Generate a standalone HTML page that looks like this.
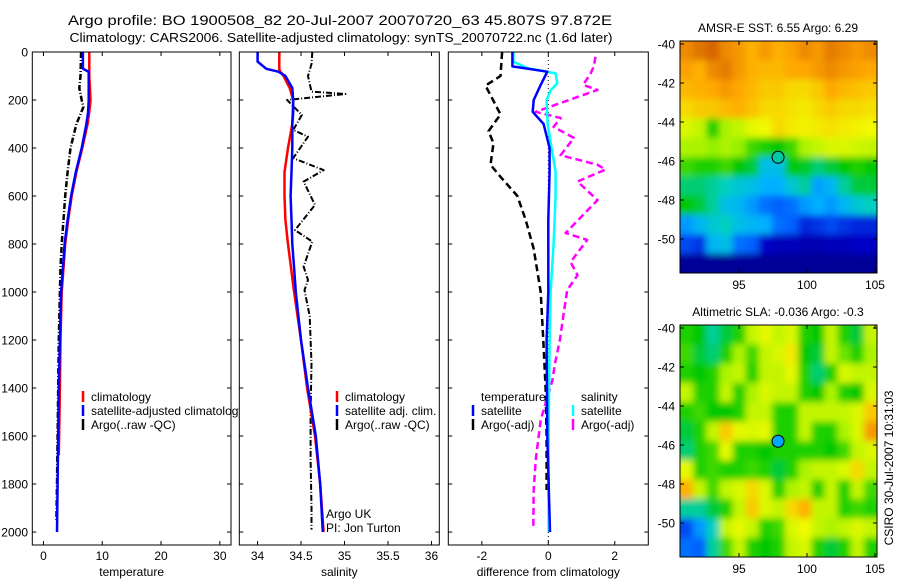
<!DOCTYPE html>
<html><head><meta charset="utf-8"><style>
html,body{margin:0;padding:0;background:#fff;}
svg{display:block;font-family:"Liberation Sans",sans-serif;}
</style></head><body>
<svg id="fig" width="900" height="580" viewBox="0 0 900 580" xmlns="http://www.w3.org/2000/svg">
<defs>
<filter id="blur" filterUnits="userSpaceOnUse" x="600" y="0" width="300" height="580"><feGaussianBlur stdDeviation="3.5"/></filter>
<clipPath id="clipMap1"><rect x="680" y="41" width="197" height="232"/></clipPath>
<clipPath id="clipMap2"><rect x="680" y="325" width="197" height="232"/></clipPath>
<clipPath id="clipP1"><rect x="32.3" y="52" width="198.7" height="493"/></clipPath>
<clipPath id="clipP2"><rect x="239.3" y="52" width="200" height="493"/></clipPath>
<clipPath id="clipP3"><rect x="448.3" y="52" width="200" height="493"/></clipPath>
</defs>
<text x="340" y="25" font-size="13.5" text-anchor="middle" textLength="544" lengthAdjust="spacingAndGlyphs">Argo profile: BO 1900508_82 20-Jul-2007 20070720_63 45.807S 97.872E</text>
<text x="341" y="42" font-size="13" text-anchor="middle" textLength="543" lengthAdjust="spacingAndGlyphs">Climatology: CARS2006. Satellite-adjusted climatology: synTS_20070722.nc (1.6d later)</text>
</svg>
<script>
// ---------- data ----------
const depthTempClim = [0,50,100,150,200,250,300,400,500,600,700,800,900,1000,1200,1400,1680];
const tempClim      = [7.8,7.8,7.8,7.9,8.0,7.8,7.5,6.6,5.6,4.8,4.2,3.7,3.4,3.1,2.9,2.8,2.6];
const depthStd      = [0,40,70,82,100,150,200,250,300,400,500,600,700,800,900,1000,1200,1400,1600,1800,2000];
const tempSat       = [6.7,6.7,6.7,7.7,7.7,7.7,7.7,7.6,7.3,6.5,5.5,4.7,4.1,3.6,3.3,3.0,2.8,2.6,2.5,2.4,2.3];
const depthTempArgo = [0,100,150,200,229,300,400,500,600,700,800,900,1000,1200,1400,1600,1800,1950];
const tempArgo      = [6.4,6.3,6.1,6.5,6.8,5.6,4.6,4.1,3.7,3.4,3.1,2.9,2.8,2.6,2.5,2.4,2.3,2.2];

const depthSalClim  = [0,75,100,150,200,300,400,500,600,700,800,1000,1200,1400,1600,1800,2000];
const salClim       = [34.25,34.25,34.3,34.37,34.41,34.40,34.35,34.31,34.31,34.32,34.35,34.42,34.5,34.57,34.66,34.72,34.76];
const salSat        = [34.0,34.0,34.1,34.24,34.32,34.40,34.41,34.41,34.40,34.40,34.39,34.38,34.39,34.40,34.42,34.44,34.5,34.58,34.67,34.72,34.75];
const depthSalArgo  = [0,50,100,165,175,200,262,325,353,442,492,540,637,742,790,894,950,992,1100,1300,1500,1700,1900,1990];
const salArgo       = [34.63,34.62,34.58,34.62,35.01,34.34,34.51,34.41,34.58,34.41,34.76,34.53,34.66,34.43,34.63,34.53,34.58,34.54,34.60,34.62,34.61,34.61,34.62,34.62];

const depthDiffT    = [0,60,82,137,200,249,300,400,500,700,1000,1200,1600,2000];
const diffTempSat   = [-1.08,-1.08,-0.03,-0.23,-0.44,-0.47,-0.14,0.04,0.04,0.0,0.0,-0.05,-0.03,0.05];
const depthDiffS    = [0,40,67,89,130,160,200,300,400,500,600,800,1000,1200,1600,2000];
const diffSalSat    = [-1.05,-1.05,-0.63,0.22,0.27,0.07,-0.05,-0.02,0.1,0.22,0.22,0.16,0.07,0.04,0.01,0.01];
const depthDiffTA   = [0,100,140,260,330,380,470,520,600,700,820,1000,1200,1400,1600,1825];
const diffTempArgo  = [-1.39,-1.44,-1.89,-1.44,-1.8,-1.65,-1.74,-1.44,-0.93,-0.68,-0.44,-0.23,-0.15,-0.08,-0.05,-0.05];
const depthDiffSA   = [20,60,88,137,158,249,275,312,358,430,470,490,540,617,754,783,875,930,992,1100,1200,1300,1370,1533,1700,1825,1980];
const diffSalArgo   = [1.42,1.37,1.28,1.05,1.48,-0.38,0.37,0.16,0.77,0.37,1.48,1.72,0.88,1.48,0.52,1.17,0.67,0.88,0.57,0.45,0.35,0.2,0.12,-0.23,-0.38,-0.44,-0.45];

const depthTicks = [0,200,400,600,800,1000,1200,1400,1600,1800,2000];
const p1Ticks = [0,10,20,30];
const p2Ticks = [34,34.5,35,35.5,36];
const p2TickLabels = ["34","34.5","35","35.5","36"];
const p3Ticks = [-2,0,2];
const latTicks = [-40,-42,-44,-46,-48,-50];
const lonTicks = [95,100,105];

const sstGrid = [
[0.9,0.93,0.95,0.9,0.88,0.85,0.88,0.85,0.87,0.9,0.88,0.92,0.9,0.88,0.9],
[0.87,0.85,0.9,0.92,0.88,0.85,0.84,0.84,0.86,0.86,0.88,0.9,0.88,0.87,0.86],
[0.84,0.85,0.86,0.88,0.86,0.84,0.82,0.82,0.8,0.8,0.82,0.86,0.84,0.83,0.82],
[0.8,0.82,0.82,0.84,0.85,0.83,0.8,0.8,0.79,0.78,0.8,0.82,0.8,0.8,0.79],
[0.74,0.72,0.6,0.7,0.72,0.75,0.76,0.8,0.78,0.77,0.78,0.79,0.78,0.77,0.76],
[0.7,0.7,0.68,0.7,0.68,0.62,0.6,0.58,0.62,0.7,0.72,0.74,0.74,0.73,0.72],
[0.62,0.6,0.6,0.62,0.58,0.55,0.42,0.42,0.58,0.56,0.52,0.55,0.58,0.6,0.58],
[0.52,0.52,0.5,0.48,0.45,0.42,0.38,0.38,0.45,0.5,0.36,0.4,0.5,0.55,0.55],
[0.58,0.55,0.5,0.42,0.4,0.35,0.3,0.28,0.3,0.35,0.38,0.35,0.4,0.45,0.48],
[0.35,0.4,0.45,0.48,0.42,0.4,0.38,0.3,0.28,0.2,0.22,0.25,0.22,0.2,0.2],
[0.25,0.22,0.4,0.42,0.3,0.28,0.15,0.12,0.12,0.1,0.1,0.12,0.12,0.15,0.15],
[0.05,0.05,0.05,0.05,0.05,0.05,0.05,0.05,0.05,0.05,0.05,0.05,0.05,0.05,0.05]];
const slaGrid = [
[0.6,0.58,0.5,0.55,0.6,0.72,0.75,0.72,0.74,0.6,0.58,0.72,0.6,0.55,0.72],
[0.62,0.55,0.52,0.6,0.7,0.62,0.72,0.74,0.78,0.58,0.55,0.72,0.65,0.6,0.7],
[0.6,0.58,0.6,0.7,0.72,0.6,0.72,0.72,0.75,0.6,0.52,0.6,0.74,0.72,0.72],
[0.72,0.6,0.6,0.72,0.6,0.7,0.74,0.72,0.72,0.6,0.58,0.7,0.6,0.58,0.74],
[0.6,0.62,0.58,0.58,0.6,0.72,0.72,0.6,0.6,0.72,0.72,0.72,0.72,0.74,0.82],
[0.55,0.6,0.72,0.82,0.75,0.74,0.75,0.6,0.6,0.72,0.6,0.6,0.7,0.74,0.88],
[0.52,0.6,0.62,0.75,0.6,0.6,0.58,0.6,0.6,0.6,0.6,0.58,0.62,0.72,0.74],
[0.75,0.6,0.62,0.6,0.6,0.62,0.6,0.55,0.6,0.7,0.72,0.72,0.74,0.8,0.72],
[0.85,0.72,0.62,0.72,0.74,0.8,0.74,0.6,0.7,0.72,0.6,0.72,0.6,0.72,0.62],
[0.5,0.5,0.55,0.6,0.72,0.82,0.74,0.72,0.8,0.85,0.72,0.72,0.6,0.62,0.6],
[0.25,0.35,0.48,0.72,0.75,0.72,0.6,0.62,0.74,0.76,0.72,0.7,0.72,0.74,0.72],
[0.3,0.28,0.5,0.62,0.72,0.6,0.58,0.6,0.72,0.74,0.6,0.55,0.6,0.72,0.6]];
const argoLon = 97.872, argoLat = -45.807;

// ---------- helpers ----------
const NS = "http://www.w3.org/2000/svg";
const svg = document.getElementById('fig');
function mk(tag, attrs, parent){ const e=document.createElementNS(NS,tag); for(const k in attrs) e.setAttribute(k,attrs[k]); (parent||svg).appendChild(e); return e; }
const Y0=52, Y1=545, DMAX=2054;
const yD = d => Y0 + d/DMAX*(Y1-Y0);
const panels = [
 {x0:32.3,x1:231,min:-1.9,max:31.9,clip:'clipP1'},
 {x0:239.3,x1:439.3,min:33.79,max:36.09,clip:'clipP2'},
 {x0:448.3,x1:648.3,min:-3.01,max:3.01,clip:'clipP3'}];
const xf = (p,v) => p.x0 + (v-p.min)/(p.max-p.min)*(p.x1-p.x0);

function panelBox(p, key){
  const r=mk('rect',{x:p.x0,y:Y0,width:p.x1-p.x0,height:Y1-Y0,fill:'#fff',stroke:'none'});
  
  
}
function panelFrame(p, ticks, labels, xlabel, showY, key){
  const g=mk('g',{stroke:'#000','stroke-width':1,fill:'none'});
  
  
  mk('rect',{x:p.x0,y:Y0,width:p.x1-p.x0,height:Y1-Y0},g);
  depthTicks.forEach(d=>{ const y=yD(d);
    mk('line',{x1:p.x0,y1:y,x2:p.x0+4,y2:y},g); mk('line',{x1:p.x1,y1:y,x2:p.x1-4,y2:y},g);
    if(showY){ const t=mk('text',{x:28,y:y+4.5,'font-size':12,'text-anchor':'end',fill:'#000',stroke:'none'}); t.textContent=String(d);
      
       }
  });
  ticks.forEach((v,i)=>{ const x=xf(p,v);
    mk('line',{x1:x,y1:Y0,x2:x,y2:Y0+4},g); mk('line',{x1:x,y1:Y1,x2:x,y2:Y1-4},g);
    const t=mk('text',{x:x,y:560,'font-size':12,'text-anchor':'middle',fill:'#000',stroke:'none'}); t.textContent=labels[i];
    
    
  });
  const xl=mk('text',{x:(p.x0+p.x1)/2,y:576,'font-size':12,'text-anchor':'middle',fill:'#000'}); xl.textContent=xlabel;
  
  
}
function series(p, depths, vals, color, dash, w, name){
  const pts = depths.map((d,i)=>xf(p,vals[i]).toFixed(1)+','+yD(d).toFixed(1)).join(' ');
  const l=mk('polyline',{points:pts,fill:'none',stroke:color,'stroke-width':w,'stroke-dasharray':dash||'none','clip-path':'url(#'+p.clip+')','stroke-linejoin':'round'});
  
  
}
function legend(x, y, color, text, name){
  const m=mk('line',{x1:x,y1:y-6,x2:x,y2:y+5,stroke:color,'stroke-width':2.5});
  
  
  const t=mk('text',{x:x+8,y:y+4,'font-size':12,fill:'#000'}); t.textContent=text;
  
  
}
function plainText(x,y,text,name,anchor){
  const t=mk('text',{x:x,y:y,'font-size':12,fill:'#000','text-anchor':anchor||'start'}); t.textContent=text;
  
  
  return t;
}

const P1=panels[0],P2=panels[1],P3=panels[2];
// ---------- panel 1 ----------
panelBox(P1,'temperature-panel');
series(P1,depthTempArgo,tempArgo,'#000','6,2,1,2',2.5,'argo-temperature-line');
series(P1,depthTempClim,tempClim,'#ff0000','',2.5,'climatology-temperature-line');
series(P1,depthStd,tempSat,'#0000ff','',2.5,'satellite-temperature-line');
legend(83,397,'#ff0000','climatology','legend-climatology');
legend(83,411,'#0000ff','satellite-adjusted climatology','legend-satellite-adjusted');
legend(83,425,'#000','Argo(..raw -QC)','legend-argo');
panelFrame(P1,p1Ticks,p1Ticks.map(String),'temperature',true,'temperature-panel');

// ---------- panel 2 ----------
panelBox(P2,'salinity-panel');
series(P2,depthSalArgo,salArgo,'#000','6,2,1,2',2,'argo-salinity-line');
series(P2,depthSalClim,salClim,'#ff0000','',2.5,'climatology-salinity-line');
series(P2,depthStd,salSat,'#0000ff','',2.5,'satellite-salinity-line');
legend(337,397,'#ff0000','climatology','legend-climatology-sal');
legend(337,411,'#0000ff','satellite adj. clim.','legend-satellite-sal');
legend(337,425,'#000','Argo(..raw -QC)','legend-argo-sal');
plainText(326,518,'Argo UK','argo-uk-label');
plainText(326,532,'PI: Jon Turton','pi-label');
panelFrame(P2,p2Ticks,p2TickLabels,'salinity',false,'salinity-panel');

// ---------- panel 3 ----------
panelBox(P3,'difference-panel');
const zl=mk('line',{x1:xf(P3,0),y1:Y0,x2:xf(P3,0),y2:Y1,stroke:'#000','stroke-width':1,'stroke-dasharray':'1,3'});


series(P3,depthDiffTA,diffTempArgo,'#000','7,4',2.5,'argo-temperature-diff-line');
series(P3,depthDiffSA,diffSalArgo,'#ff00ff','7,4',2.5,'argo-salinity-diff-line');
series(P3,depthDiffS,diffSalSat,'#00ffff','',2.5,'satellite-salinity-diff-line');
series(P3,depthDiffT,diffTempSat,'#0000ff','',2.5,'satellite-temperature-diff-line');
plainText(481,401,'temperature','legend-temperature-heading');
plainText(581,401,'salinity','legend-salinity-heading');
legend(473,411,'#0000ff','satellite','legend-temp-satellite');
legend(473,425,'#000','Argo(-adj)','legend-temp-argo');
legend(573,411,'#00ffff','satellite','legend-sal-satellite');
legend(573,425,'#ff00ff','Argo(-adj)','legend-sal-argo');
panelFrame(P3,p3Ticks,p3Ticks.map(String),'difference from climatology',false,'difference-panel');

// ---------- maps ----------
const stops=[[0,[0,0,128]],[0.15,[0,0,200]],[0.28,[0,96,255]],[0.38,[0,176,255]],[0.48,[0,208,192]],[0.58,[0,200,0]],[0.68,[150,240,0]],[0.76,[240,250,0]],[0.86,[255,168,0]],[1,[192,64,0]]];
function cmap(v){ for(let i=1;i<stops.length;i++){ if(v<=stops[i][0]){ const a=stops[i-1],b=stops[i],t=(v-a[0])/(b[0]-a[0]);
  const c=a[1].map((x,k)=>Math.round(x+(b[1][k]-x)*t)); return 'rgb('+c.join(',')+')'; } } return 'rgb(192,64,0)'; }
const MX0=680,MX1=877,LON0=90.66,LON1=105.15;
const lonX = lon => MX0+(lon-LON0)/(LON1-LON0)*(MX1-MX0);
function drawMap(grid, top, clip, key, title, markerFill){
  const latY = lat => top+3 + (-40-lat)*19.5;
  const bottom=top+232;
  const g=mk('g',{'clip-path':'url(#'+clip+')'});
  
  
  const gi=mk('g',{filter:'url(#blur)'},g);
  const rows=grid.length, cols=grid[0].length, ch=(bottom-top)/rows, cw=(MX1-MX0)/cols;
  grid.forEach((row,r)=>row.forEach((v,c)=>{
    let x=MX0+c*cw, y=top+r*ch, w=cw+0.6, h=ch+0.6;
    if(c===0){x-=10;w+=10;} if(c===cols-1){w+=10;} if(r===0){y-=10;h+=10;} if(r===rows-1){h+=10;}
    const cell=mk('rect',{x:x,y:y,width:w,height:h,fill:cmap(v)},gi);
    
    
  }));
  const fr=mk('g',{stroke:'#000','stroke-width':1,fill:'none'});
  
  
  mk('rect',{x:MX0,y:top,width:MX1-MX0,height:232},fr);
  latTicks.forEach(lat=>{ const y=latY(lat);
    mk('line',{x1:MX0,y1:y,x2:MX0+4,y2:y},fr); mk('line',{x1:MX1,y1:y,x2:MX1-4,y2:y},fr);
    const t=mk('text',{x:675,y:y+4.5,'font-size':12,'text-anchor':'end',fill:'#000',stroke:'none'}); t.textContent=String(lat);
    
    
  });
  lonTicks.forEach(lon=>{ const x=lonX(lon);
    mk('line',{x1:x,y1:top,x2:x,y2:top+4},fr); mk('line',{x1:x,y1:bottom,x2:x,y2:bottom-4},fr);
    const t=mk('text',{x:x,y:bottom+16,'font-size':12,'text-anchor':'middle',fill:'#000',stroke:'none'}); t.textContent=String(lon);
    
    
  });
  const m=mk('circle',{cx:lonX(argoLon),cy:latY(argoLat),r:6,fill:markerFill,stroke:'#000','stroke-width':1});
  
  
  plainText(778,top-9,title,key+'-title','middle');
}
drawMap(sstGrid,41,'clipMap1','sst-map','AMSR-E SST: 6.55 Argo: 6.29','#00c8a0');
drawMap(slaGrid,325,'clipMap2','sla-map','Altimetric SLA: -0.036 Argo: -0.3','#00a8ff');
const cs=plainText(0,0,'CSIRO 30-Jul-2007 10:31:03','csiro-timestamp','middle');
cs.setAttribute('transform','translate(893,468) rotate(-90)');
</script>
</body></html>
